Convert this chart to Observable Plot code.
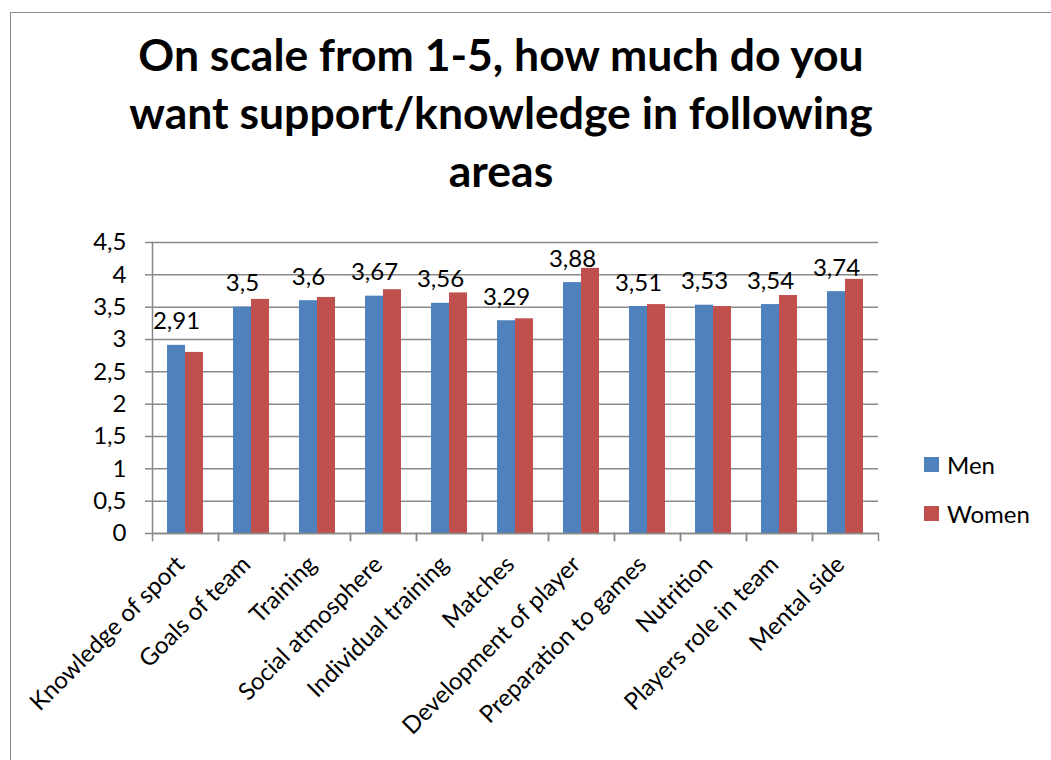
<!DOCTYPE html>
<html>
<head>
<meta charset="utf-8">
<script src="https://cdn.jsdelivr.net/npm/d3@7"></script>
<script src="https://cdn.jsdelivr.net/npm/@observablehq/plot@0.6"></script>
<style>
  html, body { margin: 0; padding: 0; background: #fff; width: 1051px; height: 760px; overflow: hidden; }
  #frame { position: absolute; left: 10px; top: 12px; width: 1100px; height: 800px; border-left: 1.5px solid #8a8a8a; border-top: 1.5px solid #8a8a8a; }
  #title { position: absolute; left: 0; top: 25px; width: 1002px; text-align: center; font-family: Lato, "Open Sans", sans-serif; font-weight: bold; font-size: 44.5px; line-height: 58px; color: #000; }
  #chart { position: absolute; left: 0; top: 0; }
  .leg { position: absolute; left: 924px; font-family: Lato, sans-serif; font-size: 24px; color: #000; display: flex; align-items: center; height: 15px; }
  .leg span.sw { display: inline-block; width: 15px; height: 15px; margin-right: 8px; }
</style>
</head>
<body>
<div id="frame"></div>
<div id="chart"></div>
<div id="title">On scale from 1-5, how much do you<br>want support/knowledge in following<br>areas</div>
<div id="legend"></div>
<script>
const categories = ["Knowledge of sport", "Goals of team", "Training", "Social atmosphere", "Individual training", "Matches", "Development of player", "Preparation to games", "Nutrition", "Players role in team", "Mental side"];
const men   = [2.91, 3.50, 3.60, 3.67, 3.56, 3.29, 3.88, 3.51, 3.53, 3.54, 3.74];
const women = [2.80, 3.62, 3.65, 3.77, 3.72, 3.32, 4.10, 3.54, 3.51, 3.68, 3.93];
const series = ["Men", "Women"];
const colors = ["#4F81BD", "#C0504D"];
const yTicks = [0, 0.5, 1, 1.5, 2, 2.5, 3, 3.5, 4, 4.5];
const yTickLabels = ["0", "0,5", "1", "1,5", "2", "2,5", "3", "3,5", "4", "4,5"];
const menLabels = ["2,91", "3,5", "3,6", "3,67", "3,56", "3,29", "3,88", "3,51", "3,53", "3,54", "3,74"];

const data = categories.flatMap((c, i) => [
  {category: c, series: "Men", value: men[i], label: menLabels[i]},
  {category: c, series: "Women", value: women[i], label: ""}
]);
const tickLabelMap = new Map(yTicks.map((t, i) => [t, yTickLabels[i]]));
const axisColor = "#898989";
const plotHeight = 760 - 242 - 227;

const chart = Plot.plot({
  width: 1051,
  height: 760,
  marginTop: 242,
  marginBottom: 227,
  marginLeft: 148,
  marginRight: 169,
  style: {fontFamily: "Lato, sans-serif", fontSize: "24px", background: "transparent", overflow: "visible", color: "#000"},
  fx: {domain: categories, padding: 0, label: null},
  x: {domain: series, paddingInner: 0, paddingOuter: 0.74, axis: null},
  y: {domain: [0, 4.5], axis: null},
  color: {domain: series, range: colors},
  marks: [
    Plot.gridY(yTicks, {stroke: axisColor, strokeOpacity: 1, strokeWidth: 1.5}),
    Plot.barY(data, {fx: "category", x: "series", y: "value", fill: "series"}),
    Plot.ruleY([0], {stroke: axisColor, strokeWidth: 1.5}),
    Plot.frame({anchor: "left", facetAnchor: "left", stroke: axisColor, strokeWidth: 1.5}),
    Plot.frame({anchor: "left", insetTop: plotHeight, insetBottom: -7, stroke: axisColor, strokeWidth: 1.5}),
    Plot.frame({anchor: "right", insetTop: plotHeight, insetBottom: -7, stroke: axisColor, strokeWidth: 1.5}),
    Plot.axisY(yTicks, {anchor: "left", tickSize: 7, tickPadding: 19, tickFormat: d => tickLabelMap.get(d), fontSize: 24, stroke: axisColor, strokeWidth: 1.5, fill: "#000", label: null}),
    Plot.axisFx({anchor: "bottom", tickRotate: -45, tickSize: 0, tickPadding: 27, dx: -5, fontSize: 24, fill: "#000", label: null}),
    Plot.text(data.filter(d => d.series === "Men"), {fx: "category", x: "series", y: "value", text: "label", lineAnchor: "bottom", dy: -16, fontSize: 24, fill: "#000"})
  ]
});
document.getElementById("chart").appendChild(chart);

const legend = document.getElementById("legend");
[[457, 0], [506, 1]].forEach(([top, i]) => {
  const el = document.createElement("div");
  el.className = "leg";
  el.style.top = top + "px";
  el.innerHTML = `<span class="sw" style="background:${colors[i]}"></span>${series[i]}`;
  legend.appendChild(el);
});
</script>
</body>
</html>
